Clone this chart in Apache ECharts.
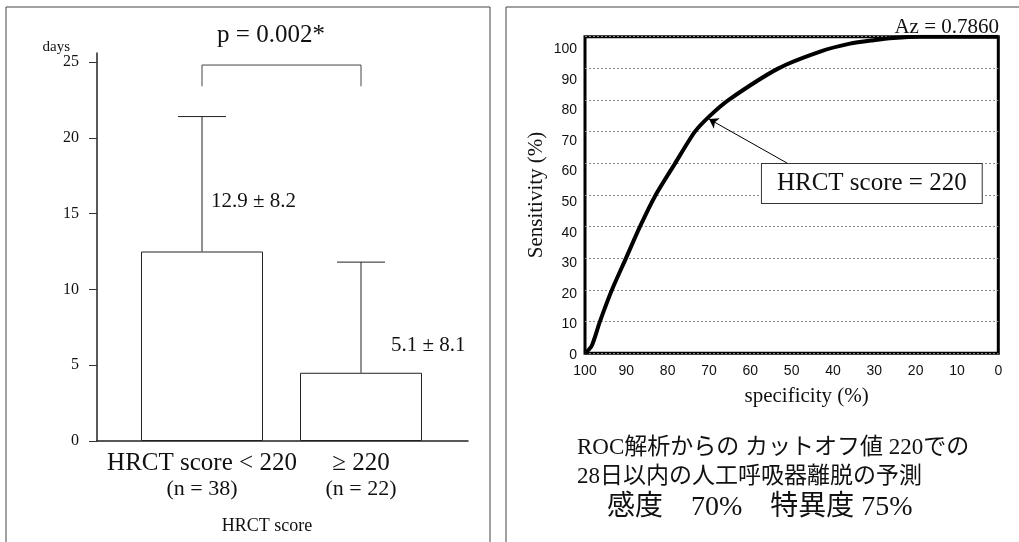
<!DOCTYPE html>
<html>
<head>
<meta charset="utf-8">
<style>
  html, body { margin: 0; padding: 0; background: #fff; }
  #chart { width: 1019px; height: 542px; }
</style>
<script src="https://cdn.jsdelivr.net/npm/echarts@6/dist/echarts.min.js"></script>
</head>
<body>
<div id="chart"></div>
<script>
// left panel: days to weaning by HRCT score group
const groupLabels = ["HRCT score < 220", "≥ 220"]
const groupCounts = ["(n = 38)", "(n = 22)"]
const meanDays = [12.5, 4.5]
const errorTopDays = [21.4, 11.8]
const statTexts = ["12.9 ± 8.2", "5.1 ± 8.1"]
const statTextDays = [15.8, 6.3]
const bracketDays = [24.8, 23.4]
const dayTicks = { min: 0, max: 25, interval: 5 }

// right panel: ROC curve
const specificity = [100, 98.4, 96.4, 93.5, 90.1, 86.7, 82.9, 78.2, 73.4, 69.8, 65.3, 53.2, 43.1, 35.9, 30.2, 25.4, 19, 0]
const sensitivity = [0, 2.3, 10, 20, 30, 40, 50, 60, 70, 75, 80, 90, 95.3, 97.8, 98.9, 99.6, 100, 100]
const cutoffPoint = [70, 74]
const arrowTail = [51, 60]
const cutoffBoxCenter = [30.6, 53.6]

const SERIF = "'Liberation Serif', 'Times New Roman', serif"
const SANS = "'Liberation Sans', Arial, sans-serif"
const JP = "'Liberation Serif', 'Noto Sans CJK JP', serif"
const INK = "#111"
const statDx = [9, 30]

const chart = echarts.init(document.getElementById("chart"), null, { renderer: "canvas" })

const hidden = { show: false }

chart.setOption({
  animation: false,
  backgroundColor: "#fff",
  grid: [
    { left: 97, right: 551, top: 53, bottom: 101 },
    { left: 122.5, right: 578.5, top: 62, bottom: 101 },
    { left: 585, right: 20.7, top: 36.7, bottom: 188.7, show: true, borderWidth: 3, borderColor: "#000" },
    { left: 585, right: 20.7, top: 49.3, bottom: 187 }
  ],
  xAxis: [
    {
      gridIndex: 0, type: "value", min: 0, max: 1,
      axisLine: { show: true, lineStyle: { color: "#222", width: 1.5 } },
      axisTick: hidden, axisLabel: hidden, splitLine: hidden
    },
    {
      gridIndex: 1, type: "category", data: groupLabels,
      axisLine: hidden, axisTick: hidden, splitLine: hidden,
      axisLabel: {
        margin: 9,
        formatter: (value, index) => `{a|${value}}\n{b|${groupCounts[index]}}`,
        rich: {
          a: { fontFamily: SERIF, fontSize: 25, lineHeight: 26, color: INK },
          b: { fontFamily: SERIF, fontSize: 22, lineHeight: 26, color: INK }
        }
      },
      name: "HRCT score", nameLocation: "middle", nameGap: 76,
      nameTextStyle: { fontFamily: SERIF, fontSize: 18, color: INK, padding: [0, 29, 0, 0] }
    },
    {
      gridIndex: 2, type: "value", min: 0, max: 100, interval: 10, inverse: true,
      axisLine: hidden, axisTick: hidden, splitLine: hidden,
      axisLabel: { fontFamily: SANS, fontSize: 14, color: INK, margin: 11 },
      name: "specificity (%)", nameLocation: "middle", nameGap: 33,
      nameTextStyle: { fontFamily: SERIF, fontSize: 21, color: INK, padding: [0, 0, 0, 30] }
    },
    {
      gridIndex: 3, type: "value", min: 0, max: 100, show: false
    }
  ],
  yAxis: [
    {
      gridIndex: 0, type: "value", min: 0, max: 1,
      axisLine: { show: true, lineStyle: { color: "#222", width: 1.5 } },
      axisTick: hidden, axisLabel: hidden, splitLine: hidden
    },
    {
      gridIndex: 1, type: "value", ...dayTicks, offset: 25.5,
      axisLine: hidden, splitLine: hidden,
      axisTick: { show: true, length: 8, lineStyle: { color: "#333", width: 1 } },
      axisLabel: { fontFamily: SERIF, fontSize: 16, color: INK, margin: 18 },
      name: "days", nameLocation: "end", nameGap: 3,
      nameTextStyle: { fontFamily: SERIF, fontSize: 15, color: INK, align: "right", verticalAlign: "bottom", padding: [0, 27, 0, 0] }
    },
    {
      gridIndex: 2, type: "value", min: 0, max: 100, interval: 10,
      axisLine: hidden, axisTick: hidden, axisLabel: hidden,
      splitLine: { show: true, lineStyle: { color: "#888", width: 1, type: [2, 2] } },
      name: "Sensitivity (%)", nameLocation: "middle", nameGap: 38,
      nameTextStyle: { fontFamily: SERIF, fontSize: 21, color: INK }
    },
    {
      gridIndex: 3, type: "value", min: 0, max: 100, interval: 10,
      axisLine: hidden, axisTick: hidden, splitLine: hidden,
      axisLabel: { fontFamily: SANS, fontSize: 14, color: INK, margin: 8 }
    }
  ],
  series: [
    {
      type: "bar", xAxisIndex: 1, yAxisIndex: 1,
      data: meanDays, barWidth: 122,
      itemStyle: { color: "#fff", borderColor: "#222", borderWidth: 1 },
      z: 2
    },
    {
      type: "custom", xAxisIndex: 1, yAxisIndex: 1, z: 3,
      data: meanDays.map((m, i) => [i, m, errorTopDays[i], statTextDays[i]]),
      renderItem(params, api) {
        const i = api.value(0)
        const base = api.coord([i, api.value(1)])
        const top = api.coord([i, api.value(2)])
        const label = api.coord([i, api.value(3)])
        const stroke = { stroke: "#222", lineWidth: 1 }
        return {
          type: "group",
          children: [
            { type: "line", shape: { x1: base[0], y1: base[1], x2: top[0], y2: top[1] }, style: stroke },
            { type: "line", shape: { x1: top[0] - 24, y1: top[1], x2: top[0] + 24, y2: top[1] }, style: stroke },
            {
              type: "text", x: label[0] + statDx[i], y: label[1],
              style: { text: statTexts[i], font: `21px ${SERIF}`, fill: INK, verticalAlign: "middle", align: "left" }
            }
          ]
        }
      }
    },
    {
      type: "custom", xAxisIndex: 1, yAxisIndex: 1, z: 3,
      data: [[0, 1, bracketDays[0], bracketDays[1]]],
      renderItem(params, api) {
        const l = api.coord([api.value(0), api.value(2)])
        const r = api.coord([api.value(1), api.value(2)])
        const legBottom = api.coord([api.value(0), api.value(3)])[1]
        return {
          type: "polyline",
          shape: { points: [[l[0], legBottom], l, r, [r[0], legBottom]] },
          style: { stroke: "#444", lineWidth: 1, fill: null }
        }
      }
    },
    {
      type: "line", xAxisIndex: 2, yAxisIndex: 2,
      data: specificity.map((s, i) => [s, sensitivity[i]]),
      smooth: 0.25, symbol: "none",
      lineStyle: { color: "#000", width: 4 },
      z: 4,
      markLine: {
        silent: true, symbol: ["none", "arrow"], symbolSize: 9,
        lineStyle: { color: "#000", width: 1, type: "solid" },
        label: hidden,
        data: [[{ coord: arrowTail }, { coord: cutoffPoint }]]
      },
      markPoint: {
        silent: true, symbol: "rect", symbolSize: 0,
        data: [{
          coord: cutoffBoxCenter,
          label: {
            show: true, position: "inside", formatter: "HRCT score = 220",
            fontFamily: SERIF, fontSize: 25, color: INK,
            backgroundColor: "#fff", borderColor: "#333", borderWidth: 1,
            padding: [8, 15, 6, 15]
          }
        }]
      }
    }
  ],
  graphic: [
    { type: "rect", shape: { x: 6, y: 7, width: 484, height: 560 }, style: { fill: null, stroke: "#444", lineWidth: 1 }, silent: true },
    { type: "rect", shape: { x: 506, y: 7, width: 540, height: 560 }, style: { fill: null, stroke: "#444", lineWidth: 1 }, silent: true },
    { type: "text", x: 271, y: 35, style: { text: "p = 0.002*", font: `25px ${SERIF}`, fill: INK, align: "center", verticalAlign: "middle" } },
    { type: "text", x: 999, y: 27, style: { text: "Az = 0.7860", font: `21px ${SERIF}`, fill: INK, align: "right", verticalAlign: "middle" } },
    { type: "text", x: 577, y: 448, style: { text: "ROC解析からの カットオフ値 220での", font: `23px ${JP}`, fill: INK, verticalAlign: "middle" } },
    { type: "text", x: 577, y: 477, style: { text: "28日以内の人工呼吸器離脱の予測", font: `23px ${JP}`, fill: INK, verticalAlign: "middle" } },
    { type: "text", x: 607, y: 508, style: { text: "感度　70%　特異度 75%", font: `28px ${JP}`, fill: INK, verticalAlign: "middle" } }
  ]
})
</script>
</body>
</html>
